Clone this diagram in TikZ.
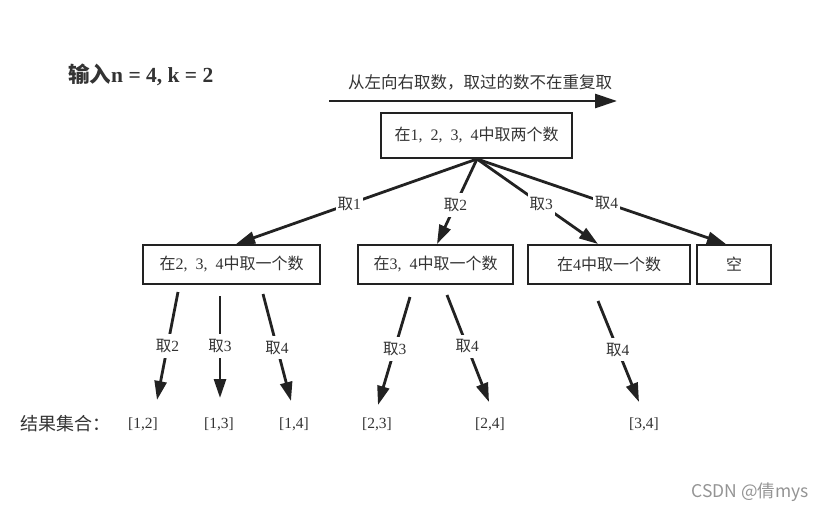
\documentclass[tikz,border=0pt]{standalone}
\usepackage{fontspec}
\setmainfont{Liberation Serif}
\newfontfamily\cjk{Noto Sans CJK SC}
\usetikzlibrary{arrows.meta}
\newcommand\zh[1]{{\cjk #1}}
\newcommand\csp{,\hspace{0.5em}}
\definecolor{ink}{HTML}{222222}
\definecolor{txt}{HTML}{333333}
\begin{document}
\begin{tikzpicture}[x=1pt,y=-1pt,
  box/.style={draw=ink,line width=2.2pt,minimum height=39pt,inner sep=0pt,text=txt,font=\fontsize{16}{16}\selectfont},
  edge/.style={draw=ink,line width=2.8pt,-{Triangle[length=19pt,width=12pt]}},
  lab/.style={fill=white,inner xsep=2pt,inner ysep=5pt,text=txt,font=\fontsize{15.5}{15.5}\selectfont},
  res/.style={text=txt,font=\fontsize{15.5}{15.5}\selectfont,inner sep=0pt}]
\useasboundingbox (0,0) rectangle (828,511);
% title
\node[text=txt,font=\fontsize{21.5}{21.5}\selectfont\bfseries,anchor=west,inner sep=0pt] (title) at (68,75) {\zh{输入}n = 4, k = 2};
% direction arrow
\node[text=txt,font=\fontsize{16.5}{16.5}\selectfont] (dir) at (480,82) {\zh{从左向右取数，取过的数不在重复取}};
\coordinate (a0) at (329,101);
\coordinate (a1) at (617,101);
\draw[ink,line width=2.8pt,-{Triangle[length=22pt,width=14pt]}] (a0) -- (a1);
% top box
\node[box,minimum width=191pt,minimum height=45pt] (root) at (476.5,135.5) {\zh{在}1\csp2\csp3\csp4\zh{中取两个数}};
% level 2
\node[box,minimum width=177pt] (b1) at (231.5,264.5) {\zh{在}2\csp3\csp4\zh{中取一个数}};
\node[box,minimum width=155pt] (b2) at (435.5,264.5) {\zh{在}3\csp4\zh{中取一个数}};
\node[box,minimum width=162pt] (b3) at (609,264.5) {\zh{在}4\zh{中取一个数}};
\node[box,minimum width=74pt] (b4) at (734,264.5) {\zh{空}};
\coordinate (r0) at (477,159);
\coordinate (e1) at (236,244);
\coordinate (e2) at (437,244);
\coordinate (e3) at (598,244);
\coordinate (e4) at (726,244);
\draw[edge] (r0) -- node[lab,pos=0.53]{\zh{取}1} (e1);
\draw[edge] (r0) -- node[lab,pos=0.54]{\zh{取}2} (e2);
\draw[edge] (r0) -- node[lab,pos=0.53]{\zh{取}3} (e3);
\draw[edge] (r0) -- node[lab,pos=0.52]{\zh{取}4} (e4);
% level 3
\coordinate (s1) at (178,292); \coordinate (t1) at (157,400);
\coordinate (s2) at (220,296); \coordinate (t2) at (220,398);
\coordinate (s3) at (263,294); \coordinate (t3) at (291,401);
\coordinate (s4) at (410,297); \coordinate (t4) at (378,405);
\coordinate (s5) at (447,295); \coordinate (t5) at (489,402);
\coordinate (s6) at (598,301); \coordinate (t6) at (639,402);
\draw[edge] (s1) -- node[lab,pos=0.5]{\zh{取}2} (t1);
\draw[edge] (s2) -- node[lab,pos=0.49]{\zh{取}3} (t2);
\draw[edge] (s3) -- node[lab,pos=0.5]{\zh{取}4} (t3);
\draw[edge] (s4) -- node[lab,pos=0.48]{\zh{取}3} (t4);
\draw[edge] (s5) -- node[lab,pos=0.48]{\zh{取}4} (t5);
\draw[edge] (s6) -- node[lab,pos=0.48]{\zh{取}4} (t6);
% results
\node[res,text=txt,font=\fontsize{18}{18}\selectfont\cjk,anchor=west] (lbl) at (20,424) {结果集合：};
\node[res] (c1) at (143,424) {[1,2]};
\node[res] (c2) at (219,424) {[1,3]};
\node[res] (c3) at (294,424) {[1,4]};
\node[res] (c4) at (377,424) {[2,3]};
\node[res] (c5) at (490,424) {[2,4]};
\node[res] (c6) at (644,424) {[3,4]};
% watermark
\node[text=black!42,font=\fontsize{17.5}{17.5}\selectfont\cjk,inner sep=0pt] (wm) at (750,492) {CSDN @倩mys};
\end{tikzpicture}
\end{document}
